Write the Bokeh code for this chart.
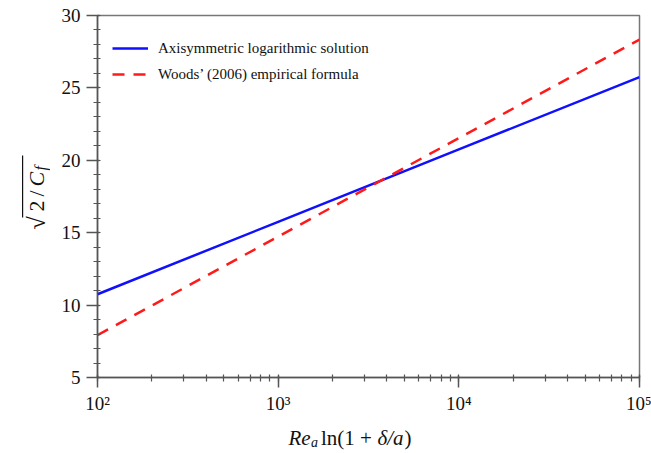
import math
from bokeh.plotting import figure
from bokeh.layouts import row, column
from bokeh.models import (Label, Legend, LegendItem, FixedTicker, BoxAnnotation, Range1d)
from bokeh.embed import file_html
from bokeh.resources import INLINE

# ---- data ----
x_vals = [1e2, 1e3, 1e4, 1e5]
axisym_vals = [10.75, 15.75, 20.75, 25.75]
woods_vals = [7.92, 14.73, 21.53, 28.34]
series_names = ["Axisymmetric logarithmic solution", "Woods\u2019 (2006) empirical formula"]
x_major = [100, 1000, 10000, 100000]
x_major_labels = ["10\u00b2", "10\u00b3", "10\u2074", "10\u2075"]
y_major = [5, 10, 15, 20, 25, 30]

FONT = "Liberation Serif"
TXT = "#111111"

YLAB_W = 50
MAIN_W, MAIN_H = 601, 417
XLAB_H = 36

p = figure(width=MAIN_W, height=MAIN_H, x_axis_type="log", output_backend="svg",
           toolbar_location=None, x_range=Range1d(1e2, 1e5), y_range=Range1d(5, 30),
           min_border_left=47, min_border_right=12, min_border_top=15, min_border_bottom=40)
p.xgrid.visible = False
p.ygrid.visible = False
p.outline_line_color = "#777777"
p.outline_line_width = 1.5
p.background_fill_color = "white"
p.border_fill_color = "white"

x_minor = [m * 10 ** e for e in range(2, 5) for m in range(1, 10)] + [1e5]
p.xaxis.ticker = FixedTicker(ticks=x_major, minor_ticks=x_minor)
p.xaxis.major_label_overrides = {t: l for t, l in zip(x_major, x_major_labels)}
p.yaxis.ticker = FixedTicker(ticks=y_major, minor_ticks=list(range(5, 31)))

for ax in (p.xaxis[0], p.yaxis[0]):
    ax.axis_line_color = "#555555"
    ax.axis_line_width = 1.5
    ax.major_tick_line_color = "#555555"
    ax.minor_tick_line_color = "#555555"
    ax.major_tick_line_width = 1.5
    ax.minor_tick_line_width = 1.2
    ax.major_tick_in = 2
    ax.minor_tick_out = 4
    ax.minor_tick_in = 3
    ax.major_label_text_font = FONT
    ax.major_label_text_font_size = "19px"
    ax.major_label_text_color = TXT
p.yaxis.major_tick_out = 11
p.xaxis.major_tick_out = 10
p.yaxis.major_label_standoff = 6
p.xaxis.major_label_standoff = 5

r1 = p.line(x_vals, axisym_vals, line_color="#1010ff", line_width=2.5)
r2 = p.line(x_vals, woods_vals, line_color="#ff1a1a", line_width=2.5, line_dash="12 9")

legend = Legend(items=[LegendItem(label=series_names[0], renderers=[r1]),
                       LegendItem(label=series_names[1], renderers=[r2])],
                location=(15, 293), margin=0, padding=0, spacing=6,
                glyph_width=36, glyph_height=20, label_height=20, label_standoff=10,
                label_text_font=FONT, label_text_font_size="15px",
                label_text_color=TXT, border_line_color=None,
                background_fill_alpha=0)
p.add_layout(legend)


def label_panel(w, h):
    f = figure(width=w, height=h, output_backend="svg", toolbar_location=None,
               x_range=Range1d(0, 1), y_range=Range1d(0, 1),
               x_axis_location=None, y_axis_location=None,
               min_border=0, min_border_left=0, min_border_right=0,
               min_border_top=0, min_border_bottom=0)
    f.xgrid.visible = False
    f.ygrid.visible = False
    f.outline_line_color = None
    f.background_fill_color = "white"
    f.border_fill_color = "white"
    return f


# ---- y axis label panel: sqrt(2/C_f), rotated (frame aligned with main frame) ----
yl = label_panel(YLAB_W, MAIN_H)
ang = math.pi / 2
bx = 36
ypieces = [
    ("\u221a", "normal", 24, 0, 148),
    ("2", "normal", 22, 0, 166),
    ("/", "normal", 22, 0, 181),
    ("C", "italic", 22, 0, 191),
    ("f", "italic", 16, 4, 207),
]
for txt, style, size, dx, ypos in ypieces:
    yl.add_layout(Label(x=bx + dx, y=ypos, x_units="screen", y_units="screen", text=txt,
                        angle=ang, text_font=FONT, text_font_style=style,
                        text_font_size=f"{size}px", text_baseline="alphabetic",
                        text_align="left", text_color=TXT))
yl.add_layout(BoxAnnotation(left=21.5, right=22.7, bottom=160, top=222,
                            left_units="screen", right_units="screen",
                            bottom_units="screen", top_units="screen",
                            fill_color=TXT, fill_alpha=1, line_color=None))

# ---- x axis label panel: Re_a ln(1 + δ/a) ----
xl = label_panel(YLAB_W + MAIN_W, XLAB_H)
fs = 21
x0, yb = 288, 16
pieces = [
    ("Re", "italic", fs, 0, 22.5),
    ("a", "italic", 14, -5, 10),
    ("ln(1 + ", "normal", fs, 0, 56.5),
    ("\u03b4/a", "italic", fs, 0, 27),
    (")", "normal", fs, 0, 7),
]
cx = x0
for txt, style, size, dy, w in pieces:
    xl.add_layout(Label(x=cx, y=yb + dy, x_units="screen", y_units="screen", text=txt,
                        text_font=FONT, text_font_style=style, text_font_size=f"{size}px",
                        text_baseline="alphabetic", text_align="left", text_color=TXT))
    cx += w

layout = column(row(yl, p, spacing=0), xl, spacing=0)
open("out.html", "w").write(file_html(layout, INLINE))
